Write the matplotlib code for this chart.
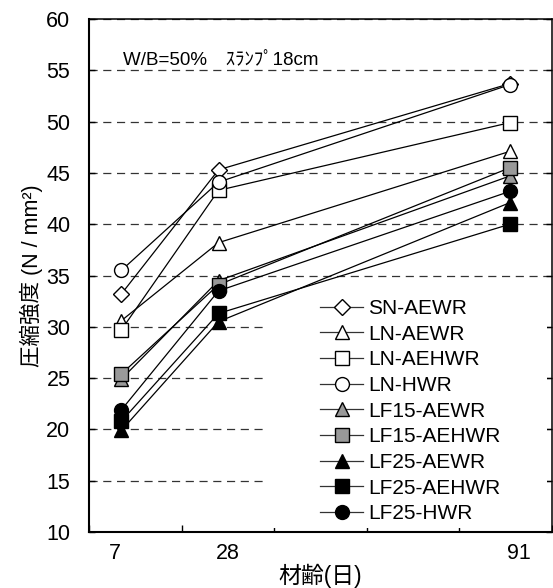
import matplotlib
matplotlib.use('Agg')
import matplotlib.pyplot as plt
from matplotlib.patches import Rectangle

plt.rcParams['font.family'] = ['Liberation Sans', 'Noto Sans CJK JP', 'DejaVu Sans']

# ---------------- data ----------------
ages = [7, 28, 91]
labels = ['SN-AEWR', 'LN-AEWR', 'LN-AEHWR', 'LN-HWR',
          'LF15-AEWR', 'LF15-AEHWR', 'LF25-AEWR', 'LF25-AEHWR', 'LF25-HWR']
sn_aewr = [33.2, 45.3, 53.7]
ln_aewr = [30.6, 38.2, 47.1]
ln_aehwr = [29.7, 43.3, 49.9]
ln_hwr = [35.5, 44.1, 53.6]
lf15_aewr = [24.9, 34.5, 44.7]
lf15_aehwr = [25.4, 34.1, 45.5]
lf25_aewr = [19.9, 30.5, 42.1]
lf25_aehwr = [20.8, 31.3, 40.0]
lf25_hwr = [21.9, 33.5, 43.2]
values = [sn_aewr, ln_aewr, ln_aehwr, ln_hwr, lf15_aewr, lf15_aehwr,
          lf25_aewr, lf25_aehwr, lf25_hwr]
x_tick_labels = ['7', '28', '91']

# ---------------- style ----------------
GRAY = '#999999'
styles = [
    dict(marker='D', mfc='white', ms=8.5),
    dict(marker='^', mfc='white', ms=10.5),
    dict(marker='s', mfc='white', ms=9.5),
    dict(marker='o', mfc='white', ms=10),
    dict(marker='^', mfc=GRAY, ms=10.5),
    dict(marker='s', mfc=GRAY, ms=9.5),
    dict(marker='^', mfc='black', ms=10.5),
    dict(marker='s', mfc='black', ms=9.5),
    dict(marker='o', mfc='black', ms=10),
]

W, H = 553, 588
fig = plt.figure(figsize=(W / 100, H / 100), dpi=100)
L, R, T, B = 89, 551.5, 19, 532
ax = fig.add_axes([L / W, 1 - B / H, (R - L) / W, (B - T) / H])

ax.set_xlim(0, 100)
ax.set_ylim(10, 60)

for vals, lab, st in zip(values, labels, styles):
    ax.plot(ages, vals, color='black', lw=0.9, marker=st['marker'],
            ms=st['ms'], mfc=st['mfc'], mec='black', mew=1.0,
            label=lab, zorder=3)

# grid
ax.set_axisbelow(True)
ax.yaxis.grid(True, color='#333333', lw=0.9, linestyle=(0, (6.5, 4.5)))
ax.xaxis.grid(False)

# ticks
ax.set_yticks(range(10, 61, 5))
ax.set_xticks(range(0, 101, 20))
ax.set_xticklabels([])
ax.set_xticks([5.6, 30.0, 93.0], minor=True)
ax.set_xticklabels(x_tick_labels, minor=True)
ax.tick_params(axis='x', which='major', direction='in', length=5, width=1, top=False)
ax.tick_params(axis='x', which='minor', length=0, pad=8, labelsize=15.5)
ax.tick_params(axis='y', which='major', direction='in', length=4, width=1,
               right=True, pad=13.5, labelsize=15.5)

for s in ['left', 'bottom']:
    ax.spines[s].set_linewidth(1.5)
for s in ['top', 'right']:
    ax.spines[s].set_linewidth(1.1)

# white legend background area (covers grid lines)
ax.add_patch(Rectangle((0.384, 0.008), 0.607, 0.455, transform=ax.transAxes,
                       facecolor='white', edgecolor='none', zorder=1))

leg = ax.legend(loc='upper left', bbox_to_anchor=(0.4995, 0.454), frameon=False,
                fontsize=15, handlelength=2.07, handletextpad=0.25,
                labelspacing=0.32, borderaxespad=0, borderpad=0)
for h in leg.legend_handles:
    h.set_color('#333333')
    h.set_markeredgecolor('black')

ax.text(0.074, 0.918, 'W/B=50%　ｽﾗﾝﾌﾟ18cm', transform=ax.transAxes,
        fontsize=13.5, ha='left', va='center')

ax.set_ylabel('圧縮強度 (N / mm²)', fontsize=15.5, labelpad=2.5)
ax.set_xlabel('材齢(日)', fontsize=16.5, labelpad=0)

fig.savefig('out.png', dpi=100)
